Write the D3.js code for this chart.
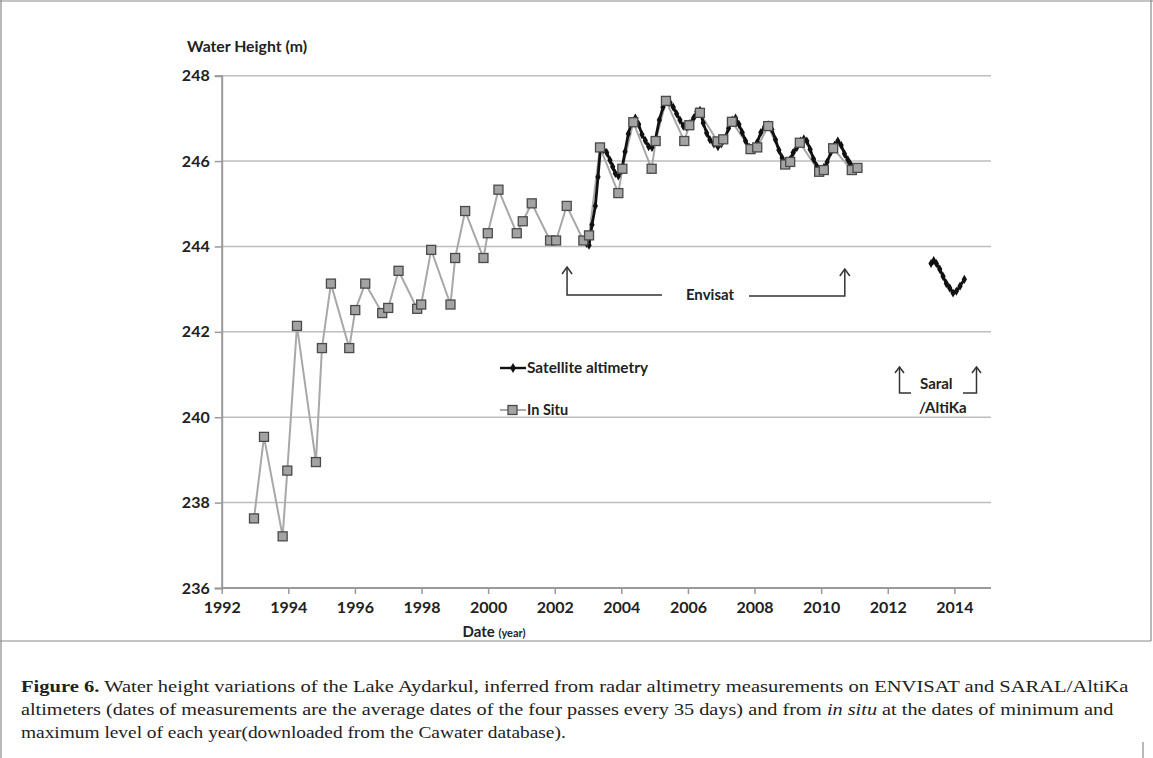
<!DOCTYPE html>
<html><head><meta charset="utf-8">
<script src="https://cdn.jsdelivr.net/npm/d3@7"></script>
<style>
html,body{margin:0;padding:0;background:#fff;}
svg{display:block;}
.chart text{font-family:Lato,"Open Sans",sans-serif;font-weight:bold;fill:#222;}
.cap text{font-family:"Liberation Serif","DejaVu Serif",serif;fill:#222;}
</style></head>
<body>
<svg id="c" width="1153" height="758"></svg>
<script>
// ---- data ----
const xTicks = [1992,1994,1996,1998,2000,2002,2004,2006,2008,2010,2012,2014];
const yTicks = [236,238,240,242,244,246,248];

const inSituYears = [1992.97,1993.27,1993.83,1993.97,1994.26,1994.83,1995.01,1995.28,1995.83,1996.01,1996.31,1996.82,1997.0,1997.31,1997.87,1997.99,1998.29,1998.87,1999.01,1999.31,1999.86,1999.99,2000.31,2000.86,2001.04,2001.31,2001.86,2002.04,2002.36,2002.86,2003.03,2003.36,2003.91,2004.03,2004.36,2004.91,2005.03,2005.34,2005.89,2006.04,2006.36,2006.89,2007.06,2007.32,2007.88,2008.08,2008.41,2008.92,2009.07,2009.36,2009.94,2010.08,2010.36,2010.92,2011.09];
const inSituValues = [237.63,239.54,237.21,238.75,242.14,238.95,241.62,243.13,241.62,242.51,243.13,242.44,242.56,243.43,242.54,242.64,243.92,242.64,243.73,244.83,243.73,244.31,245.33,244.31,244.59,245.01,244.14,244.14,244.95,244.14,244.26,246.32,245.25,245.82,246.91,245.82,246.47,247.41,246.47,246.84,247.13,246.46,246.51,246.92,246.28,246.32,246.82,245.92,245.98,246.43,245.75,245.79,246.3,245.79,245.84];

const envisatYears = [2002.86,2002.96,2003.03,2003.12,2003.22,2003.3,2003.37,2003.46,2003.56,2003.66,2003.74,2003.82,2003.91,2004.01,2004.11,2004.21,2004.31,2004.42,2004.52,2004.62,2004.72,2004.82,2004.92,2005.02,2005.14,2005.25,2005.36,2005.46,2005.56,2005.66,2005.76,2005.86,2005.96,2006.06,2006.17,2006.27,2006.36,2006.46,2006.56,2006.66,2006.78,2006.9,2007.0,2007.11,2007.22,2007.33,2007.43,2007.53,2007.63,2007.73,2007.84,2007.96,2008.08,2008.19,2008.3,2008.41,2008.52,2008.63,2008.73,2008.83,2008.95,2009.06,2009.16,2009.27,2009.38,2009.48,2009.57,2009.67,2009.77,2009.87,2009.98,2010.08,2010.18,2010.3,2010.4,2010.5,2010.6,2010.7,2010.8,2010.88];
const envisatValues = [244.14,244.07,244.03,244.51,244.95,245.63,246.27,246.27,246.2,246.02,245.87,245.71,245.65,245.78,246.22,246.64,246.91,247.01,246.86,246.62,246.48,246.34,246.32,246.5,246.96,247.26,247.41,247.37,247.26,247.11,246.96,246.82,246.8,246.88,247.01,247.16,247.19,246.89,246.66,246.5,246.4,246.34,246.4,246.52,246.77,246.96,247.01,246.86,246.67,246.47,246.32,246.27,246.44,246.67,246.8,246.85,246.74,246.5,246.26,246.07,245.96,246.03,246.2,246.32,246.47,246.52,246.47,246.27,246.05,245.88,245.8,245.85,245.98,246.22,246.37,246.47,246.37,246.17,246.03,245.93];

const saralYears = [2013.3,2013.38,2013.46,2013.56,2013.66,2013.76,2013.86,2013.96,2014.06,2014.17,2014.3];
const saralValues = [243.6,243.67,243.6,243.47,243.3,243.13,243.03,242.91,242.95,243.07,243.23];

const seriesNames = ["Satellite altimetry","In Situ"];

// ---- drawing ----
const svg = d3.select("#c");
const frame = svg.append("g").attr("stroke","#8a8a8a").attr("stroke-width",1.2).attr("fill","none");
frame.append("line").attr("x1",0).attr("x2",1153).attr("y1",1).attr("y2",1);
frame.append("line").attr("x1",1).attr("x2",1).attr("y1",0).attr("y2",758);
frame.append("line").attr("x1",1151).attr("x2",1151).attr("y1",0).attr("y2",641);
frame.append("line").attr("x1",0).attr("x2",1151).attr("y1",641).attr("y2",641);
frame.append("line").attr("x1",1143).attr("x2",1143).attr("y1",742).attr("y2",758);

const g = svg.append("g").attr("class","chart");
const x = d3.scaleLinear().domain([1992,2015.1]).range([221.7,991]);
const y = d3.scaleLinear().domain([236,248]).range([588,75.7]);

// gridlines
g.append("g").selectAll("line").data(yTicks.filter(d=>d>236)).join("line")
  .attr("x1",x(1992)).attr("x2",x(2015.1)).attr("y1",d=>y(d)).attr("y2",d=>y(d))
  .attr("stroke","#bdbdbd").attr("stroke-width",1.5);

// axes
const yAxis = g.append("g").attr("transform",`translate(${x(1992)},0)`)
  .call(d3.axisLeft(y).tickValues(yTicks).tickSize(7).tickPadding(5).tickFormat(d3.format("d")));
yAxis.select(".domain").attr("stroke","#9a9a9a").attr("stroke-width",2);
yAxis.selectAll(".tick line").attr("stroke","#9a9a9a").attr("stroke-width",1.5);
yAxis.selectAll(".tick text").attr("font-size",16).attr("fill","#222");

const xAxis = g.append("g").attr("transform",`translate(0,${y(236)})`)
  .call(d3.axisBottom(x).tickValues(xTicks).tickSize(6).tickPadding(8).tickFormat(d3.format("d")));
xAxis.select(".domain").attr("stroke","#9a9a9a").attr("stroke-width",2).attr("d",`M${x(1992)},0H${x(2015.1)}`);
xAxis.selectAll(".tick line").attr("stroke","#9a9a9a").attr("stroke-width",1.5);
xAxis.selectAll(".tick text").attr("font-size",16).attr("fill","#222");

// titles
g.append("text").attr("x",187).attr("y",52).attr("font-size",15.5).attr("textLength",120).attr("lengthAdjust","spacingAndGlyphs").text("Water Height (m)");
const xt = g.append("text").attr("x",494).attr("y",637).attr("text-anchor","middle");
xt.append("tspan").attr("font-size",15).text("Date ");
xt.append("tspan").attr("font-size",11).text("(year)");

// in situ
const inSitu = inSituYears.map((t,i)=>({t,v:inSituValues[i]}));
const line = d3.line().x(d=>x(d.t)).y(d=>y(d.v));
g.append("path").datum(inSitu).attr("d",line).attr("fill","none")
  .attr("stroke","#a8a8a8").attr("stroke-width",2);

// satellite
const env = envisatYears.map((t,i)=>({t,v:envisatValues[i]}));
const sar = saralYears.map((t,i)=>({t,v:saralValues[i]}));
[env,sar].forEach(s=>{
  g.append("path").datum(s).attr("d",line).attr("fill","none")
    .attr("stroke","#111").attr("stroke-width",2.8).attr("stroke-linejoin","round");
  g.append("g").selectAll("path").data(s).join("path")
    .attr("d",d3.symbol(d3.symbolDiamond,24))
    .attr("transform",d=>`translate(${x(d.t)},${y(d.v)})`).attr("fill","#111");
});

// in situ markers on top
g.append("g").selectAll("rect").data(inSitu).join("rect")
  .attr("x",d=>x(d.t)-4.5).attr("y",d=>y(d.v)-4.5).attr("width",9).attr("height",9)
  .attr("fill","#a3a3a3").attr("stroke","#4a4a4a").attr("stroke-width",1.3);

// legend
const lg = g.append("g");
lg.append("line").attr("x1",500).attr("x2",526).attr("y1",368).attr("y2",368).attr("stroke","#111").attr("stroke-width",2.4);
lg.append("path").attr("d",d3.symbol(d3.symbolDiamond,30)).attr("transform","translate(513,368)").attr("fill","#111");
lg.append("text").attr("x",527).attr("y",373).attr("font-size",14.5).attr("textLength",121).attr("lengthAdjust","spacingAndGlyphs").text(seriesNames[0]);
lg.append("line").attr("x1",500).attr("x2",526).attr("y1",410).attr("y2",410).attr("stroke","#a8a8a8").attr("stroke-width",2);
lg.append("rect").attr("x",508).attr("y",405.5).attr("width",9).attr("height",9).attr("fill","#a3a3a3").attr("stroke","#4a4a4a").attr("stroke-width",1.3);
lg.append("text").attr("x",527).attr("y",415).attr("font-size",14.5).text(seriesNames[1]);

// Envisat annotation
const aL = x(2002.37), aR = x(2010.71);
const an = g.append("g").attr("fill","none").attr("stroke","#333").attr("stroke-width",1.5);
an.append("path").attr("d",`M${aL},268V295H662`);
an.append("path").attr("d",`M749,296H${aR}V270`);
an.append("path").attr("d",`M${aL-5},274L${aL},267L${aL+5},274`);
an.append("path").attr("d",`M${aR-5},276L${aR},269L${aR+5},276`);
g.append("text").attr("x",710).attr("y",300).attr("text-anchor","middle").attr("font-size",15).text("Envisat");

// Saral annotation
an.append("path").attr("d",`M899.5,367V393H911`);
an.append("path").attr("d",`M895,373L899.5,367L904,373`);
an.append("path").attr("d",`M963,393H976.5V367`);
an.append("path").attr("d",`M972,373L976.5,367L981,373`);
g.append("text").attr("x",920).attr("y",389).attr("font-size",15).text("Saral");
g.append("text").attr("x",919).attr("y",413).attr("font-size",15).text("/AltiKa");

// caption
const cap = svg.append("g").attr("class","cap");
function capLine(yy, parts, width){
  const t = cap.append("text").attr("x",0).attr("y",0).attr("font-size",17.5);
  parts.forEach(p=>{
    const s = t.append("tspan").text(p.s);
    if(p.b) s.attr("font-weight","bold");
    if(p.i) s.attr("font-style","italic");
  });
  const w = t.node().getComputedTextLength();
  t.attr("transform",`translate(21,${yy}) scale(${width/w},1)`);
}
capLine(692,[{s:"Figure 6.",b:true},{s:" Water height variations of the Lake Aydarkul, inferred from radar altimetry measurements on ENVISAT and SARAL/AltiKa"}],1108);
capLine(715,[{s:"altimeters (dates of measurements are the average dates of the four passes every 35 days) and from "},{s:"in situ",i:true},{s:" at the dates of minimum and"}],1093);
capLine(738,[{s:"maximum level of each year(downloaded from the Cawater database)."}],545);
</script>
</body></html>
